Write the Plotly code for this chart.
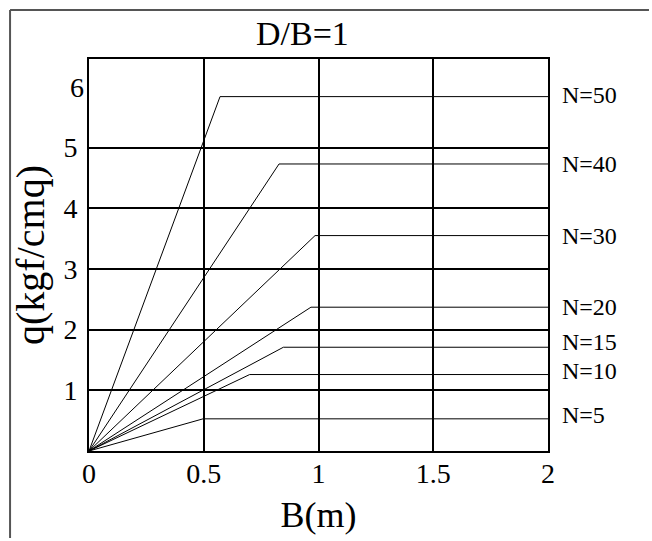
import plotly.graph_objects as go

# Data
n_labels = ["N=5", "N=10", "N=15", "N=20", "N=30", "N=40", "N=50"]
knee_b = [0.497, 0.70, 0.847, 0.967, 0.985, 0.828, 0.571]
knee_q = [0.53, 1.26, 1.71, 2.37, 3.55, 4.73, 5.84]
b_end = 2.0
label_shift = [4, 4, 5, 0, 0, 0, 2]

x_ticks = [0, 0.5, 1, 1.5, 2]
y_grid_ticks = [1, 2, 3, 4, 5]
y_extra_ticks = [6]

FONT = "Liberation Serif, Times New Roman, serif"

fig = go.Figure()
for lab, b, q in zip(n_labels, knee_b, knee_q):
    fig.add_trace(go.Scatter(
        x=[0, b, b_end], y=[0, q, q], mode="lines",
        line=dict(color="black", width=1), name=lab, showlegend=False,
        hoverinfo="skip"))

for lab, q, s in zip(n_labels, knee_q, label_shift):
    fig.add_annotation(x=b_end, y=q, xref="x", yref="y", text=lab,
                       showarrow=False, xanchor="left", yanchor="middle",
                       xshift=12, yshift=s,
                       font=dict(family=FONT, size=24, color="black"))

fig.add_annotation(x=0.466, y=1.064, xref="paper", yref="paper", text="D/B=1",
                   showarrow=False, xanchor="center", yanchor="middle",
                   font=dict(family=FONT, size=34, color="black"))

# outer frame (left and top edges visible), kept inside the figure
fig.add_shape(type="line", xref="paper", yref="paper",
              x0=-0.172, x1=-0.172, y0=-0.222, y1=1.125,
              line=dict(color="#555555", width=2))
fig.add_shape(type="line", xref="paper", yref="paper",
              x0=-0.172, x1=1.220, y0=1.125, y1=1.125,
              line=dict(color="#555555", width=2))

fig.update_layout(
    width=652, height=541,
    margin=dict(l=89, r=104, t=59, b=90),
    paper_bgcolor="white", plot_bgcolor="white",
    font=dict(family=FONT, color="black"),
    xaxis=dict(range=[0, 2], tickvals=x_ticks, ticktext=[str(v) if v % 1 else str(int(v)) for v in x_ticks],
               showgrid=True, gridcolor="black", gridwidth=1.5,
               showline=True, linecolor="black", linewidth=2, mirror=True,
               zeroline=False, ticks="", ticklabelstandoff=-4,
               tickfont=dict(family=FONT, size=28),
               title=dict(text="B(m)", font=dict(family=FONT, size=36), standoff=14)),
    yaxis=dict(range=[0, 6.46], tickvals=y_grid_ticks,
               showgrid=True, gridcolor="black", gridwidth=1.5,
               showline=True, linecolor="black", linewidth=2, mirror=True,
               zeroline=False, ticks="", ticklabelstandoff=4,
               tickfont=dict(family=FONT, size=28),
               title=dict(text="q(kgf/cmq)", font=dict(family=FONT, size=40), standoff=6)),
    yaxis2=dict(range=[0, 6.46], tickvals=y_extra_ticks, overlaying="y", side="left",
                showgrid=False, zeroline=False, showline=False, ticks="",
                ticklabelstandoff=4, tickfont=dict(family=FONT, size=28)),
    showlegend=False,
)
fig.add_trace(go.Scatter(x=[None], y=[None], yaxis="y2", showlegend=False, hoverinfo="skip"))

fig.write_html("out.html")
